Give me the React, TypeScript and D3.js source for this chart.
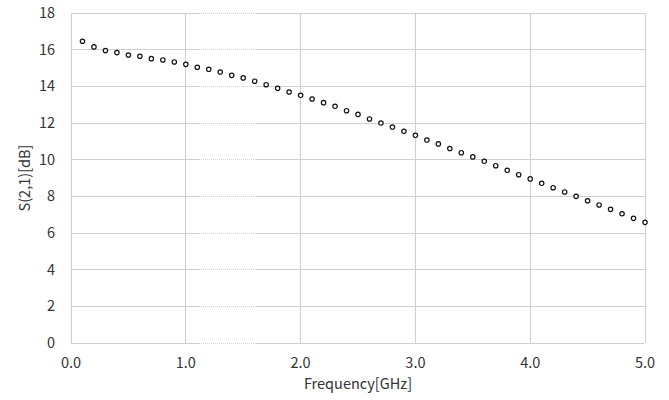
import React from "react";
import * as d3 from "d3";

const freqGHz = [
  0.1, 0.2, 0.3, 0.4, 0.5, 0.6, 0.7, 0.8, 0.9, 1.0,
  1.1, 1.2, 1.3, 1.4, 1.5, 1.6, 1.7, 1.8, 1.9, 2.0,
  2.1, 2.2, 2.3, 2.4, 2.5, 2.6, 2.7, 2.8, 2.9, 3.0,
  3.1, 3.2, 3.3, 3.4, 3.5, 3.6, 3.7, 3.8, 3.9, 4.0,
  4.1, 4.2, 4.3, 4.4, 4.5, 4.6, 4.7, 4.8, 4.9, 5.0,
];
const s21dB = [
  16.46, 16.15, 15.95, 15.84, 15.71, 15.64, 15.51, 15.44, 15.33, 15.2,
  15.04, 14.93, 14.78, 14.6, 14.46, 14.28, 14.09, 13.89, 13.69, 13.51,
  13.31, 13.11, 12.91, 12.67, 12.47, 12.22, 12.0, 11.78, 11.55, 11.33,
  11.07, 10.86, 10.61, 10.38, 10.15, 9.91, 9.67, 9.42, 9.18, 8.95,
  8.71, 8.47, 8.24, 8.0, 7.76, 7.53, 7.29, 7.05, 6.8, 6.58,
];
const xTicks = [0, 1, 2, 3, 4, 5];
const yTicks = [0, 2, 4, 6, 8, 10, 12, 14, 16, 18];
const xTitle = "Frequency[GHz]";
const yTitle = "S(2,1)[dB]";

const W = 669;
const H = 400;
const left = 71;
const right = 645;
const top = 13;
const bottom = 343;
const font = "'Noto Sans CJK JP', 'Noto Sans', sans-serif";
const textColor = "#333";
const gridColor = "#d0d0d0";
const fs = 14.5;

export default function App() {
  const x = d3.scaleLinear().domain([0, 5]).range([left, right]);
  const y = d3.scaleLinear().domain([0, 18]).range([bottom, top]);
  return (
    <svg
      width={W}
      height={H}
      style={{ position: "absolute", left: 0, top: 0, background: "#fff" }}
    >
      <rect x={0} y={0} width={W} height={H} fill="#fff" />
      {yTicks.map((t) => (
        <line
          key={"gy" + t}
          x1={left}
          x2={right}
          y1={y(t)}
          y2={y(t)}
          stroke={gridColor}
          strokeWidth={1}
          strokeDasharray="1.5 0.5"
          shapeRendering="crispEdges"
        />
      ))}
      {xTicks.map((t) => (
        <line
          key={"gx" + t}
          x1={x(t)}
          x2={x(t)}
          y1={top}
          y2={bottom}
          stroke={gridColor}
          strokeWidth={1}
          shapeRendering="crispEdges"
        />
      ))}
      {yTicks.map((t) => (
        <text
          key={"ty" + t}
          x={55}
          y={y(t)}
          dy="0.35em"
          textAnchor="end"
          fontFamily={font}
          fontSize={fs}
          fill={textColor}
        >
          {t}
        </text>
      ))}
      {xTicks.map((t) => (
        <text
          key={"tx" + t}
          x={x(t)}
          y={363}
          dy="0.35em"
          textAnchor="middle"
          fontFamily={font}
          fontSize={fs}
          fill={textColor}
        >
          {t.toFixed(1)}
        </text>
      ))}
      <text
        x={(left + right) / 2}
        y={384}
        dy="0.35em"
        textAnchor="middle"
        fontFamily={font}
        fontSize={fs}
        fill={textColor}
      >
        {xTitle}
      </text>
      <text
        transform={`translate(25,${(top + bottom) / 2}) rotate(-90)`}
        dy="0.35em"
        textAnchor="middle"
        fontFamily={font}
        fontSize={fs}
        fill={textColor}
      >
        {yTitle}
      </text>
      {freqGHz.map((f, i) => (
        <circle
          key={"p" + i}
          cx={x(f)}
          cy={y(s21dB[i])}
          r={2.2}
          fill="#fff"
          stroke="#111"
          strokeWidth={1.2}
        />
      ))}
    </svg>
  );
}
